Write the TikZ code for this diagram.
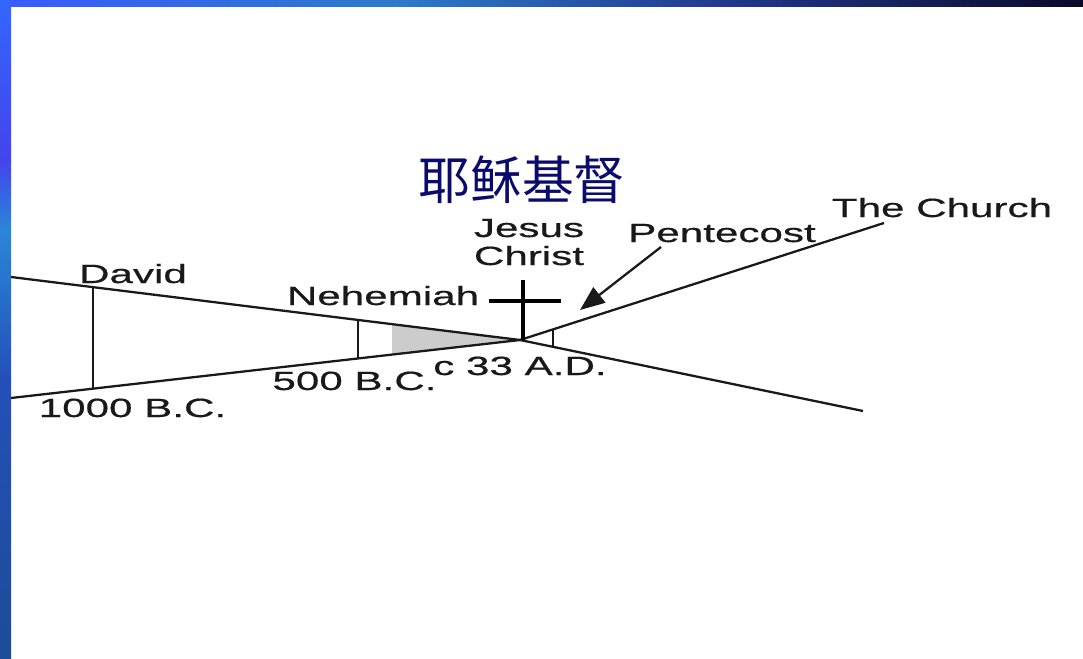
\documentclass[tikz,border=0pt]{standalone}
\usepackage{fontspec}
\usetikzlibrary{arrows.meta}
\newfontfamily\lblfont[FakeStretch=1.6,FakeBold=0.6]{Liberation Sans}
\newfontfamily\cjkfont{Noto Sans CJK SC}
\definecolor{titlenavy}{HTML}{0B0B6E}
\definecolor{barA}{HTML}{3A5AFF}
\definecolor{barB}{HTML}{2B7CC8}
\definecolor{barC}{HTML}{22388F}
\definecolor{barD}{HTML}{0A0A28}
\definecolor{sideA}{HTML}{3366FF}
\definecolor{sideB}{HTML}{4444EE}
\definecolor{sideC}{HTML}{2A86D8}
\definecolor{sideD}{HTML}{2350B8}
\definecolor{sideE}{HTML}{1D4C98}
\tikzset{
  lbl/.style={inner sep=0pt, anchor=base, font=\lblfont\fontsize{15}{17}\selectfont, text=black!90},
  tline/.style={line width=1.3pt, black!90},
  crossbar/.style={line width=2.8pt, black},
}
\begin{document}
\begin{tikzpicture}[x=0.02cm,y=-0.02cm]
\useasboundingbox (0,0) rectangle (1083,659);
\fill[white] (0,0) rectangle (1083,659);
% borders
\shade[left color=barA, right color=barB] (0,0) rectangle (400,6);
\shade[left color=barB, right color=barC] (400,0) rectangle (720,6);
\shade[left color=barC, right color=barD] (720,0) rectangle (1083,6);
\shade[top color=sideA, bottom color=sideB] (0,0) rectangle (11,160);
\shade[top color=sideB, bottom color=sideC] (0,160) rectangle (11,230);
\shade[top color=sideC, bottom color=sideD] (0,230) rectangle (11,380);
\shade[top color=sideD, bottom color=sideE] (0,380) rectangle (11,659);
% key points
\coordinate (ulstart) at (11,277);
\coordinate (llstart) at (11,398);
\coordinate (apex) at (520,340);
\coordinate (worldend) at (863,411);
\coordinate (churchend) at (884,223);
\coordinate (dtop) at (93,287);
\coordinate (dbot) at (93,388.5);
\coordinate (ntop) at (358,320);
\coordinate (nbot) at (358,357.5);
\coordinate (gtop) at (392,324);
\coordinate (gbot) at (392,354.5);
\coordinate (ptop) at (553,330);
\coordinate (pbot) at (553,346.5);
\coordinate (crosstop) at (523,280);
\coordinate (crossbot) at (523,340);
\coordinate (barleft) at (489,301);
\coordinate (barright) at (561,301);
\coordinate (arrstart) at (661,247);
\coordinate (arrtip) at (580,310);
% shaded wedge
\fill[gray!40] (gtop) -- (apex) -- (gbot) -- cycle;
% lines
\draw[tline] (ulstart) -- (apex) -- (worldend);
\draw[tline] (llstart) -- (apex);
\draw[tline] (apex) -- (churchend);
\draw[tline] (dtop) -- (dbot);
\draw[tline] (ntop) -- (nbot);
\draw[tline] (ptop) -- (pbot);
% cross
\draw[crossbar] (crosstop) -- (crossbot);
\draw[line width=1.9pt] (barleft) -- (barright);
% arrow
\draw[tline, -{Triangle[length=14pt,width=11pt]}] (arrstart) -- (arrtip);
% labels
\node[lbl] (david) at (133,283) {David};
\node[lbl] (bc1000) at (132.5,417) {1000 B.C.};
\node[lbl] (nehemiah) at (383,305) {Nehemiah};
\node[lbl] (bc500) at (354.5,390) {500 B.C.};
\node[lbl] (ad33) at (520,375) {c 33 A.D.};
\node[lbl] (jesus) at (529,237) {Jesus};
\node[lbl] (christ) at (529,265) {Christ};
\node[lbl] (pentecost) at (722,242) {Pentecost};
\node[lbl] (church) at (942,217) {The Church};
\node[inner sep=0pt, text=titlenavy, font=\cjkfont\fontsize{29.5}{32}\selectfont] (title) at (522,180) {耶稣基督};
\end{tikzpicture}
\end{document}
